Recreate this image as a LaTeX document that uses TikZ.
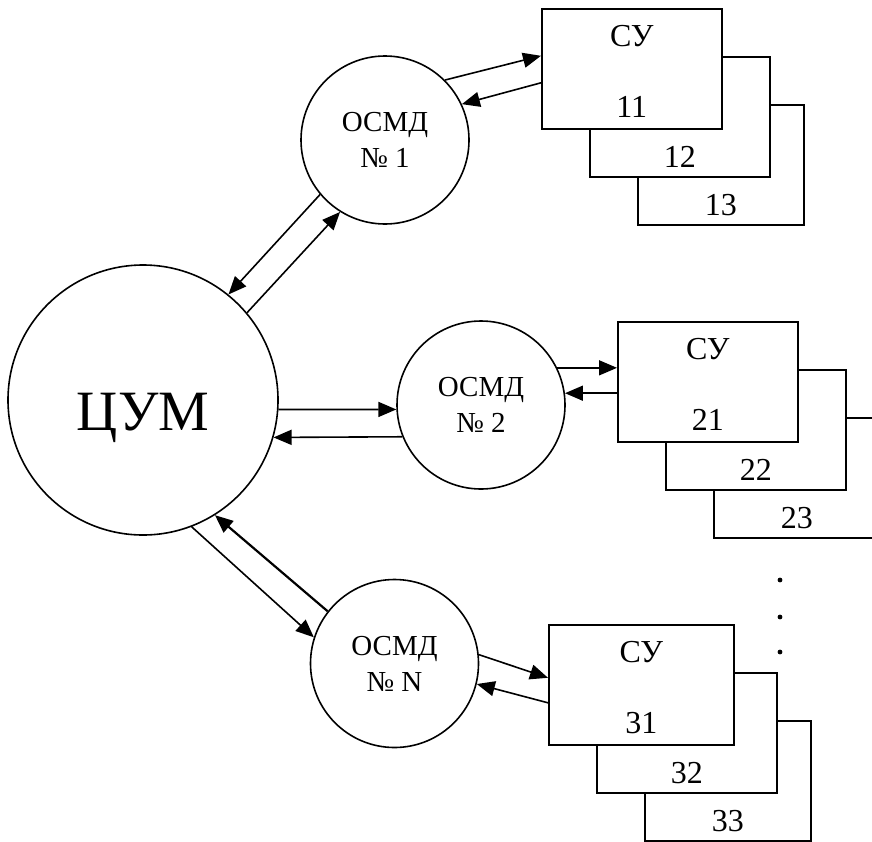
\documentclass[tikz,border=0pt]{standalone}
\usepackage{fontspec}
\setmainfont{Liberation Serif}
\usetikzlibrary{arrows.meta}
\tikzset{
  line/.style={line width=1.6pt},
  arr/.style={line, -{Triangle[length=18pt,width=15pt]}},
  osmd/.style={circle, draw, line, minimum size=168pt, inner sep=0pt, align=center, font=\fontsize{29}{36}\selectfont},
  subbox/.style={draw, fill=white, line, anchor=north west, minimum height=120pt, inner sep=0pt},
  num/.style={anchor=south, inner sep=10pt, font=\fontsize{32}{38}\selectfont},
  head/.style={anchor=north, inner sep=17pt, font=\fontsize{32}{38}\selectfont}
}
\begin{document}
\begin{tikzpicture}[x=1pt,y=-1pt]
\useasboundingbox (0,0) rectangle (872,841);
\clip (0,0) rectangle (872,841);
% sub-units, back to front
\foreach \r/\x/\y/\w in {1/541/8/180,2/617/321/180,3/548/624/185}{
  \node[subbox, minimum width=166pt, label={[num]south:\r3}] (s\r3) at (\x+96,\y+96) {};
  \node[subbox, minimum width=180pt, label={[num]south:\r2}] (s\r2) at (\x+48,\y+48) {};
  \node[subbox, minimum width=\w pt, label={[num,inner sep=12pt]south:\r1}, label={[head]north:СУ}] (s\r1) at (\x,\y) {};
}
\foreach \d in {580,617,652}
  \fill (780,\d) circle (2.4pt);
% centre and local units
\node[circle, draw, line, minimum size=270pt, font=\fontsize{57}{60}\selectfont, text height=60pt, text depth=0pt] (cum) at (143,400) {ЦУМ};
\node[osmd] (o1) at (385,140) {ОСМД\\№ 1};
\node[osmd] (o2) at (481,405) {ОСМД\\№ 2};
\node[osmd] (on) at (394.5,663.5) {ОСМД\\№ N};
% links
\draw[arr] (o1.220) -- (cum.51);
\draw[arr] (cum.40) -- (o1.238);
\draw[arr] (o1.45) -- ([yshift=13pt]s11.west);
\draw[arr] ([yshift=-14pt]s11.west) -- (o1.25);
\draw[arr] (cum.-4) -- (o2.183);
\draw[arr] (o2.202) -- (cum.-16);
\draw[arr] (o2.26) -- (o2.26 -| s21.west);
\draw[arr] (o2.8 -| s21.west) -- (o2.8);
\draw[arr] (cum.-69) -- (on.162);
\draw[arr, line width=2.2pt] (on.142) -- (cum.-58);
\draw[arr] (on.6) -- ([yshift=7pt]s31.west);
\draw[arr] ([yshift=-18pt]s31.west) -- (on.-14);
\end{tikzpicture}
\end{document}
